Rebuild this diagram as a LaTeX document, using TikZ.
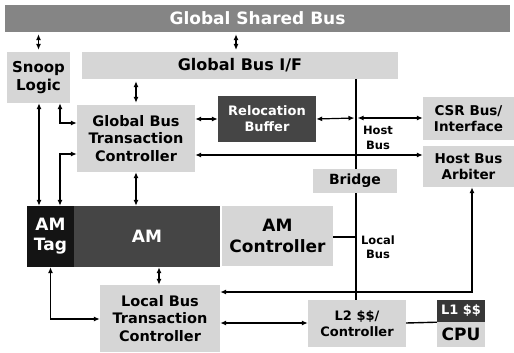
\documentclass[tikz,border=0pt]{standalone}
\usepackage{fontspec}
\setmainfont{DejaVu Sans}
\usetikzlibrary{arrows.meta}
\definecolor{lightbox}{gray}{0.84}
\definecolor{darkbox}{gray}{0.27}
\definecolor{barfill}{gray}{0.52}
\newcommand\fs[1]{\bfseries\fontsize{#1}{#1}\selectfont}
\tikzset{
  blk/.style={rectangle, inner sep=0pt, align=center},
  light/.style={blk, fill=lightbox, text=black},
  dark/.style={blk, fill=darkbox, text=white},
  conn/.style={line width=1.2pt, {Latex[length=6pt,width=5pt]}-{Latex[length=6pt,width=5pt]}},
  wire/.style={line width=1.4pt},
}
\begin{document}
\begin{tikzpicture}[x=1pt,y=-1pt]
\useasboundingbox (0,0) rectangle (514,353);

% shared bus bar
\node[blk, fill=barfill, text=white, minimum width=505pt, minimum height=27pt, font=\fs{17}] (gsb) at (257.5,18.5) {Global Shared Bus};

% top row
\node[light, minimum width=63pt, minimum height=51pt, font=\fs{15}, align=center] (snoop) at (38.5,77.5) {Snoop\\[3pt]Logic};
\node[light, minimum width=316pt, minimum height=27pt, font=\fs{16}] (gbif) at (240,65.5) {Global Bus I/F};

% host side
\node[light, minimum width=118pt, minimum height=67pt, font=\fs{14.5}] (gbtc) at (136,138.5) {Global Bus\\[3pt]Transaction\\[3pt]Controller};
\node[dark, minimum width=98pt, minimum height=46pt, font=\fs{13}] (reloc) at (267,119) {Relocation\\[3pt]Buffer};
\node[light, minimum width=91pt, minimum height=43pt, font=\fs{13.5}] (csr) at (468.5,118.5) {CSR Bus/\\[3pt]Interface};
\node[light, minimum width=91pt, minimum height=41pt, font=\fs{13.5}] (hba) at (468.5,166.5) {Host Bus\\[3pt]Arbiter};

% memory row
\node[blk, fill=black!92, text=white, minimum width=47pt, minimum height=61pt, font=\fs{17}] (amtag) at (50.5,236.5) {AM\\[3pt]Tag};
\node[dark, minimum width=146pt, minimum height=61pt, font=\fs{17}] (am) at (147,236.5) {AM};
\node[light, minimum width=111pt, minimum height=60pt, font=\fs{17}] (amc) at (277.5,236) {AM\\[4pt]Controller};

% local side
\node[light, minimum width=120pt, minimum height=67pt, font=\fs{14.5}] (lbtc) at (160,318.5) {Local Bus\\[3pt]Transaction\\[3pt]Controller};
\node[light, minimum width=98pt, minimum height=47pt, font=\fs{13}] (l2) at (357,323.5) {L2 \$\$/\\[3pt]Controller};
\node[blk, fill=darkbox!80!black, text=white, minimum width=48pt, minimum height=22pt, font=\fs{13}] (l1) at (461,311) {L1 \$\$};
\node[light, minimum width=48pt, minimum height=25pt, font=\fs{17}] (cpu) at (461,334.5) {CPU};

% vertical host/local bus, drawn before the bridge box that covers it
\coordinate (busTop) at (356,79);
\coordinate (busBot) at (356,300);
\draw[wire] (busTop) -- (busBot);
\node[light, minimum width=84pt, minimum height=24pt, font=\fs{14}] (bridge) at (355,181) {Bridge};

\node[blk, font=\fs{11.5}] (hostlbl) at (378,138) {Host\\[3pt]Bus};
\node[blk, font=\fs{11.5}] (locallbl) at (378,247) {Local\\[3pt]Bus};

% bus taps
\coordinate (tapR) at (356,118);
\coordinate (tapA) at (356,237);

% connectors
\draw[conn, shorten <=2pt, shorten >=2pt] (gsb.south -| snoop.north) -- (snoop.north);
\draw[conn, shorten <=2pt, shorten >=2pt] (gsb.south -| 236,0) -- (236,52);
\draw[conn, shorten <=2pt, shorten >=2pt] (gbif.south -| gbtc.north) -- (gbtc.north);

\draw[conn] (snoop.south -| 39,0) -- (amtag.north -| 39,0);
\draw[conn] (snoop.south -| 60,0) |- (gbtc.west |- 0,123);
\draw[conn] (gbtc.west |- 0,154) -| (amtag.north -| 60,0);

\draw[conn] (gbtc.east |- reloc.west) -- (reloc.west);
\draw[conn] (reloc.east) -- ([xshift=-1.5pt]tapR);
\draw[conn] ([xshift=1.5pt]tapR) -- (csr.west |- tapR);
\draw[conn] (gbtc.east |- 0,155) -- (hba.west |- 0,155);

\draw[conn] (gbtc.south) -- (am.north -| gbtc.south);
\draw[wire] (amc.east |- tapA) -- (tapA);

\draw[conn] (am.south -| 159,0) -- (lbtc.north -| 159,0);
\draw[conn] (amtag.south) |- (lbtc.west |- 0,319);
\draw[conn] (hba.south -| 472,0) |- (lbtc.east |- 0,292);
\draw[conn] (l2.west |- 0,323) -- (lbtc.east |- 0,323);
\draw[wire] (l2.east |- 0,323) -- (l1.south west);
\end{tikzpicture}
\end{document}
